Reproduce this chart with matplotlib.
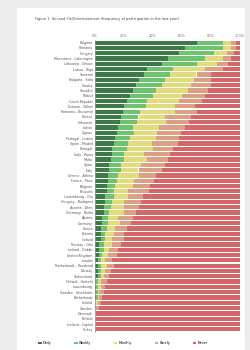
import numpy as np
import matplotlib.pyplot as plt
from matplotlib.patches import Rectangle

# rows, top to bottom
labels = [
    "Bulgaria", "Romania", "Hungary", "Macedonia - Lake region", "Lithuania - Vilnius",
    "Latvia - Riga", "Slovenia", "Bulgaria - Sofia", "Croatia", "Slovakia",
    "Poland", "Czech Republic", "Estonia - Tallinn", "Romania - Bucuresti", "Greece",
    "Lithuania", "Latvia", "Cyprus", "Portugal - Lisboa", "Spain - Madrid",
    "Portugal", "Italy - Roma", "Malta", "Spain", "Italy",
    "Greece - Athina", "France - Paris", "Belgium", "Brussels", "Luxembourg - City",
    "Hungary - Budapest", "Austria - Wien", "Germany - Berlin", "Austria", "Germany",
    "France", "Estonia", "Iceland", "Norway - Oslo", "Ireland - Dublin",
    "United Kingdom", "London", "Netherlands - Randstad", "Norway", "Switzerland",
    "Finland - Helsinki", "Luxembourg", "Sweden - Stockholm", "Netherlands", "Ireland",
    "Sweden", "Denmark", "Finland", "Iceland - Capital", "Turkey",
]
daily = [70, 62, 58, 50, 46, 36, 34, 30, 28, 26, 24, 22, 20, 19, 18, 17, 16, 15, 14, 13,
         12, 12, 11, 10, 10, 9, 9, 8, 8, 7, 7, 6, 6, 5, 5, 4, 4, 4, 3, 3,
         3, 2, 2, 2, 2, 1, 1, 1, 1, 0, 0, 0, 0, 0, 0]
weekly = [18, 26, 24, 26, 24, 18, 18, 18, 18, 16, 16, 14, 15, 12, 12, 12, 10, 12, 10, 10,
          10, 8, 9, 8, 8, 7, 6, 6, 5, 6, 5, 5, 4, 4, 4, 4, 3, 3, 3, 3,
          2, 2, 2, 2, 2, 1, 1, 1, 1, 1, 1, 0, 0, 0, 0]
monthly = [6, 6, 9, 12, 14, 22, 18, 20, 20, 22, 20, 22, 20, 24, 18, 20, 18, 16, 18, 16,
           18, 14, 16, 14, 12, 14, 12, 12, 10, 10, 8, 9, 10, 7, 8, 6, 6, 5, 6, 4,
           4, 3, 4, 3, 2, 2, 2, 1, 1, 1, 0, 0, 0, 0, 0]
rarely = [3, 3, 5, 6, 8, 12, 10, 12, 14, 14, 16, 16, 14, 15, 18, 16, 18, 16, 16, 18,
          14, 18, 14, 16, 16, 12, 14, 12, 14, 10, 12, 10, 8, 10, 8, 8, 7, 8, 6, 6,
          6, 5, 5, 4, 4, 4, 3, 3, 2, 2, 2, 1, 1, 1, 1]
never = [100 - a - b - c - d for a, b, c, d in zip(daily, weekly, monthly, rarely)]

series = [daily, weekly, monthly, rarely, never]
legend_labels = ["Daily", "Weekly", "Monthly", "Rarely", "Never"]
colours = ["#3d7a48", "#6cc46e", "#e2dc7c", "#dca184", "#d4676a"]
ticks = [0, 20, 40, 60, 80, 100]

fig = plt.figure(figsize=(2.51, 3.5), dpi=100, facecolor="#ececec")
# paper sheet behind everything
fig.patches.append(Rectangle((17 / 251, 0), 228 / 251, 342 / 350, transform=fig.transFigure,
                             facecolor="white", edgecolor="none", zorder=-5))

ax = fig.add_axes([95 / 251, 1 - 332 / 350, 145 / 251, 292 / 350])
ax.set_facecolor("white")
y = np.arange(len(labels))
left = np.zeros(len(labels))
for vals, col, lab in zip(series, colours, legend_labels):
    ax.barh(y, vals, left=left, height=0.8, color=col, label=lab)
    left += np.array(vals)

ax.set_ylim(len(labels) - 0.5, -0.5)
ax.set_xlim(0, 100)
ax.set_yticks(y)
ax.set_yticklabels(labels, fontsize=2.3, color="#555555")
ax.xaxis.tick_top()
ax.set_xticks(ticks)
ax.set_xticklabels([f"{t}%" for t in ticks], fontsize=2.5, color="#777777")
ax.tick_params(length=0, pad=1.5)
for s in ["top", "right", "bottom"]:
    ax.spines[s].set_visible(False)
ax.spines["left"].set_color("#999999")
ax.spines["left"].set_linewidth(0.5)

fig.text(35 / 251, 1 - 19 / 350,
         "Figure 1: Second life/Entertainment (frequency of participation in the last year)",
         fontsize=2.6, color="#444444", va="center")

fig.legend(loc="lower center", bbox_to_anchor=(0.49, 0.005), ncol=5, fontsize=2.4,
           frameon=False, handlelength=1.0, handleheight=0.8, columnspacing=6.8,
           handletextpad=0.4)

fig.savefig("out.png", dpi=100, facecolor=fig.get_facecolor())
